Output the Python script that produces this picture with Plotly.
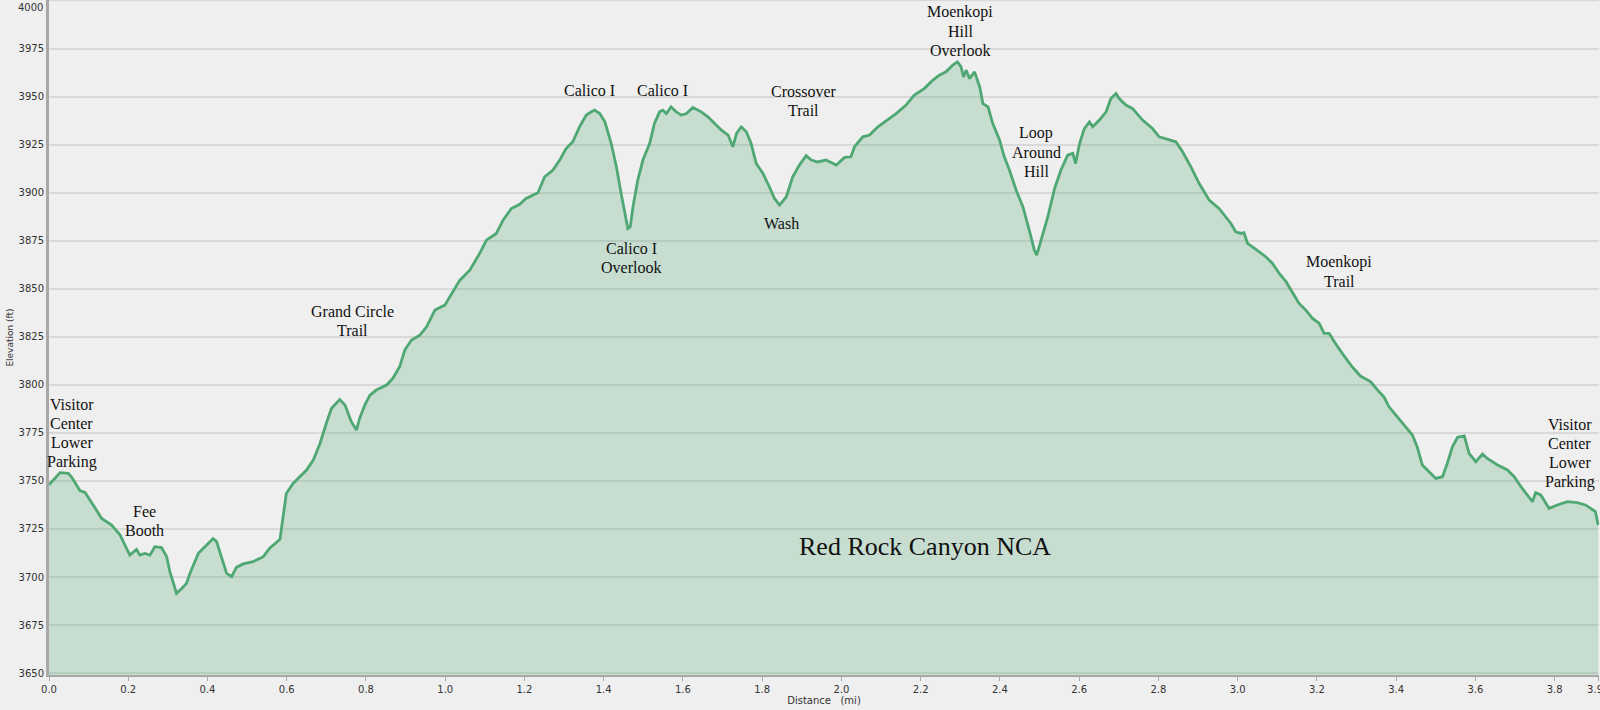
import plotly.graph_objects as go

# elevation profile, Red Rock Canyon loop
distance_mi = [
    0.0, 0.011, 0.028, 0.049, 0.057, 0.078, 0.091, 0.116, 0.133, 0.158,
    0.179, 0.204, 0.221, 0.229, 0.242, 0.255, 0.267, 0.284, 0.297, 0.305,
    0.322, 0.335, 0.347, 0.356, 0.377, 0.398, 0.414, 0.423, 0.435, 0.448,
    0.461, 0.473, 0.490, 0.515, 0.541, 0.557, 0.583, 0.599, 0.616, 0.633,
    0.650, 0.667, 0.684, 0.700, 0.713, 0.734, 0.747, 0.763, 0.776, 0.784,
    0.797, 0.810, 0.826, 0.852, 0.868, 0.885, 0.898, 0.915, 0.936,
    0.953, 0.974, 0.999, 1.020, 1.037, 1.062, 1.087, 1.104, 1.129, 1.146,
    1.167, 1.188, 1.204, 1.234, 1.251, 1.272, 1.289, 1.305, 1.322, 1.339,
    1.356, 1.369, 1.377, 1.390, 1.403, 1.419, 1.432, 1.444, 1.453, 1.461,
    1.467, 1.474, 1.486, 1.499, 1.516, 1.528, 1.541, 1.549, 1.558, 1.570,
    1.583, 1.596, 1.609, 1.625, 1.646, 1.663, 1.680, 1.697, 1.714, 1.726,
    1.735, 1.747, 1.760, 1.772, 1.785, 1.802, 1.818, 1.831, 1.844, 1.861,
    1.877, 1.894, 1.911,
    1.924, 1.940, 1.961, 1.987, 2.008, 2.024, 2.033, 2.054, 2.071, 2.092,
    2.121, 2.138, 2.163, 2.184, 2.209, 2.231, 2.247, 2.264, 2.281, 2.293,
    2.302, 2.308, 2.315, 2.323, 2.336, 2.349, 2.357, 2.370, 2.382, 2.399,
    2.411, 2.424, 2.441, 2.458, 2.474, 2.487, 2.493, 2.504, 2.521, 2.538,
    2.554, 2.571, 2.584, 2.591, 2.601, 2.613, 2.626, 2.634, 2.651, 2.668,
    2.680, 2.693, 2.701, 2.718, 2.735, 2.760, 2.785, 2.802, 2.827, 2.844,
    2.861, 2.882, 2.903,
    2.928, 2.953, 2.983, 2.995, 3.008, 3.016, 3.025, 3.046, 3.071, 3.088,
    3.105, 3.122, 3.139, 3.155, 3.172, 3.189, 3.206, 3.218, 3.231, 3.244,
    3.264, 3.289, 3.310, 3.336, 3.357, 3.369, 3.382, 3.403, 3.424, 3.441,
    3.453, 3.466, 3.483, 3.500, 3.517, 3.529, 3.542, 3.555, 3.572, 3.584,
    3.601, 3.618, 3.630, 3.656, 3.681, 3.698, 3.715, 3.731, 3.744, 3.752,
    3.765, 3.786, 3.807, 3.832, 3.857, 3.878, 3.895, 3.903, 3.910,
]

elevation_ft = [
    3748, 3750.5, 3754.3, 3754, 3752, 3745, 3744, 3736, 3730.5, 3727,
    3722, 3711.4, 3714.4, 3711.4, 3712.3, 3711.4, 3715.8, 3715.3, 3710.6, 3702.8,
    3691.5, 3694, 3696.7, 3702, 3712.3, 3716.6, 3720, 3718.4, 3710.6, 3702,
    3700.2, 3705, 3706.8, 3708, 3710.6, 3715, 3719.6, 3743.5, 3748.7, 3752.2,
    3755.7, 3760.9, 3769.5, 3780, 3787.8, 3792.4, 3789.5, 3780.8, 3776.5, 3782.5,
    3789.5, 3794.7, 3797.3, 3799.9, 3803.4, 3809.4, 3818.1, 3823.3, 3825.9,
    3830.2, 3838.9, 3841.5, 3848.5, 3854.5, 3859.7, 3868.4, 3875.3, 3878.8, 3885.7,
    3891.8, 3894, 3897, 3900, 3908.3, 3911.8, 3917, 3923, 3926.5, 3934.3,
    3940.4, 3942.1, 3943, 3941.2, 3936.9, 3925.6, 3913.5, 3899.6, 3890.1, 3881.4,
    3882.3, 3892.7, 3906.6, 3917, 3925.6, 3936, 3942.1, 3943, 3941.2, 3944.7,
    3942.1, 3940.4, 3941.2, 3944.4, 3942.1, 3939.5, 3936, 3932.6, 3930, 3923.9,
    3930.8, 3934.3, 3931.7, 3925.6, 3915.2, 3910, 3903.1, 3897, 3893.6, 3897.9,
    3908.3, 3914.4, 3919.3,
    3917, 3916, 3917, 3914.4, 3918.4, 3918.7, 3923.9, 3929.1, 3930, 3934.3,
    3938.6, 3941.2, 3945.6, 3950.8, 3954.2, 3958.6, 3961.2, 3962.9, 3966.4, 3968.1,
    3965.5, 3960.3, 3963.8, 3959.4, 3962.9, 3955.1, 3946.4, 3944.7, 3936, 3927.4,
    3918.7, 3911.8, 3901.3, 3892.7, 3880.5, 3870.1, 3867.5, 3875.3, 3887.5, 3902.2,
    3911.8, 3919.6, 3920.5, 3915.2, 3925.6, 3933.4, 3936.9, 3934.3, 3937.8, 3942.1,
    3949, 3951.6, 3949, 3945.6, 3943.8, 3937.8, 3933.4, 3929.1, 3927.4, 3926.5,
    3921.3, 3913.5, 3904.8,
    3896.2, 3891.8, 3884, 3879.7, 3878.8, 3879.2, 3873.6, 3870.5, 3866.7, 3863.2,
    3858, 3853.7, 3847.6, 3842.4, 3838.9, 3834.6, 3832, 3826.8, 3826.8, 3822.4,
    3816.4, 3809.4, 3804.6, 3801.6, 3796.4, 3793.8, 3788.6, 3783.4, 3778.2, 3773.9,
    3767.8, 3758.3, 3754.8, 3751.3, 3752.2, 3759.1, 3767.8, 3772.7, 3773.4, 3764.3,
    3760, 3764, 3761.7, 3758.3, 3755.7, 3752.2, 3747, 3742.7, 3739.2, 3743.9,
    3742.7, 3735.7, 3737.5, 3739.2, 3738.7, 3737.5, 3734.9, 3734, 3727,
]

x_ticks = [0.0, 0.2, 0.4, 0.6, 0.8, 1.0, 1.2, 1.4, 1.6, 1.8, 2.0, 2.2, 2.4,
           2.6, 2.8, 3.0, 3.2, 3.4, 3.6, 3.8, 3.91]
x_tick_labels = ["0.0", "0.2", "0.4", "0.6", "0.8", "1.0", "1.2", "1.4", "1.6",
                 "1.8", "2.0", "2.2", "2.4", "2.6", "2.8", "3.0", "3.2", "3.4",
                 "3.6", "3.8", "3.91"]
y_ticks = list(range(3650, 4000, 25))

# (text, distance, elevation) for the place labels
place_labels = [
    ("Visitor<br>Center<br>Lower<br>Parking", 0.058, 3774.7),
    ("Fee<br>Booth", 0.242, 3728.9),
    ("Grand Circle<br>Trail", 0.767, 3833.5),
    ("Calico I", 1.364, 3953.4),
    ("Calico I", 1.549, 3953.4),
    ("Calico I<br>Overlook", 1.470, 3866.2),
    ("Wash", 1.849, 3884.2),
    ("Crossover<br>Trail", 1.905, 3947.7),
    ("Moenkopi<br>Hill<br>Overlook", 2.300, 3984.1),
    ("Loop<br>Around<br>Hill", 2.492, 3921.1),
    ("Moenkopi<br>Trail", 3.256, 3858.9),
    ("Visitor<br>Center<br>Lower<br>Parking", 3.838, 3764.5),
]

BG = "#efefef"
LINE = "#4fa873"
FILL = "rgba(60,160,100,0.22)"
SERIF = "Liberation Serif, Times New Roman, serif"
SANS = "DejaVu Sans, Verdana, sans-serif"
LINE_GAP = 19  # px between label lines

fig = go.Figure()
fig.add_trace(go.Scatter(
    x=distance_mi, y=elevation_ft, mode="lines",
    line=dict(color=LINE, width=2.8),
    fill="tozeroy", fillcolor=FILL, hoverinfo="x+y",
))

annotations = []
for text, x, y in place_labels:
    lines = text.split("<br>")
    for i, part in enumerate(lines):
        shift = ((len(lines) - 1) / 2 - i) * LINE_GAP
        annotations.append(dict(x=x, y=y, yshift=shift, text=part, showarrow=False,
                                xanchor="center", yanchor="middle",
                                font=dict(family=SERIF, size=16, color="#111")))
annotations.append(dict(x=2.211, y=3715.8, text="Red Rock Canyon NCA", showarrow=False,
                        font=dict(family=SERIF, size=26, color="#111")))
# top tick label sits below the clipped top edge
annotations.append(dict(xref="paper", yref="paper", x=0, y=1, yshift=-7, xshift=-4,
                        xanchor="right", yanchor="middle", text="4000", showarrow=False,
                        font=dict(family=SANS, size=10, color="#333")))

fig.update_layout(
    width=1600, height=710,
    margin=dict(l=49, r=1, t=0, b=35),
    paper_bgcolor=BG, plot_bgcolor=BG,
    showlegend=False,
    annotations=annotations,
    xaxis=dict(
        range=[0, 3.912], tickvals=x_ticks, ticktext=x_tick_labels,
        showgrid=False, zeroline=False, automargin=False, ticklabeloverflow="allow",
        showline=True, linecolor="#a8a8a8", linewidth=2,
        ticks="outside", ticklen=4, tickcolor="#a8a8a8",
        tickfont=dict(family=SANS, size=10, color="#333"),
        title=dict(text="Distance   (mi)", font=dict(family=SANS, size=10, color="#333"), standoff=2),
    ),
    yaxis=dict(
        range=[3649, 4000.3], tickvals=y_ticks,
        showgrid=True, gridcolor="#d9d9d9", gridwidth=1.5, zeroline=False, automargin=False,
        showline=True, linecolor="#a8a8a8", linewidth=3,
        ticks="", tickfont=dict(family=SANS, size=10, color="#333"),
        title=dict(text="Elevation (ft)", font=dict(family=SANS, size=9, color="#333"), standoff=4),
    ),
)
# gridline at the very top of the plot
fig.add_shape(type="line", xref="paper", yref="y", x0=0, x1=1, y0=4000, y1=4000,
              line=dict(color="#d9d9d9", width=1.5), layer="below")

# drop the page's default body margin so the 1600x710 figure fills the window
fig.write_html("out.html", config={"displayModeBar": False},
               post_script="document.body.style.margin='0';")
